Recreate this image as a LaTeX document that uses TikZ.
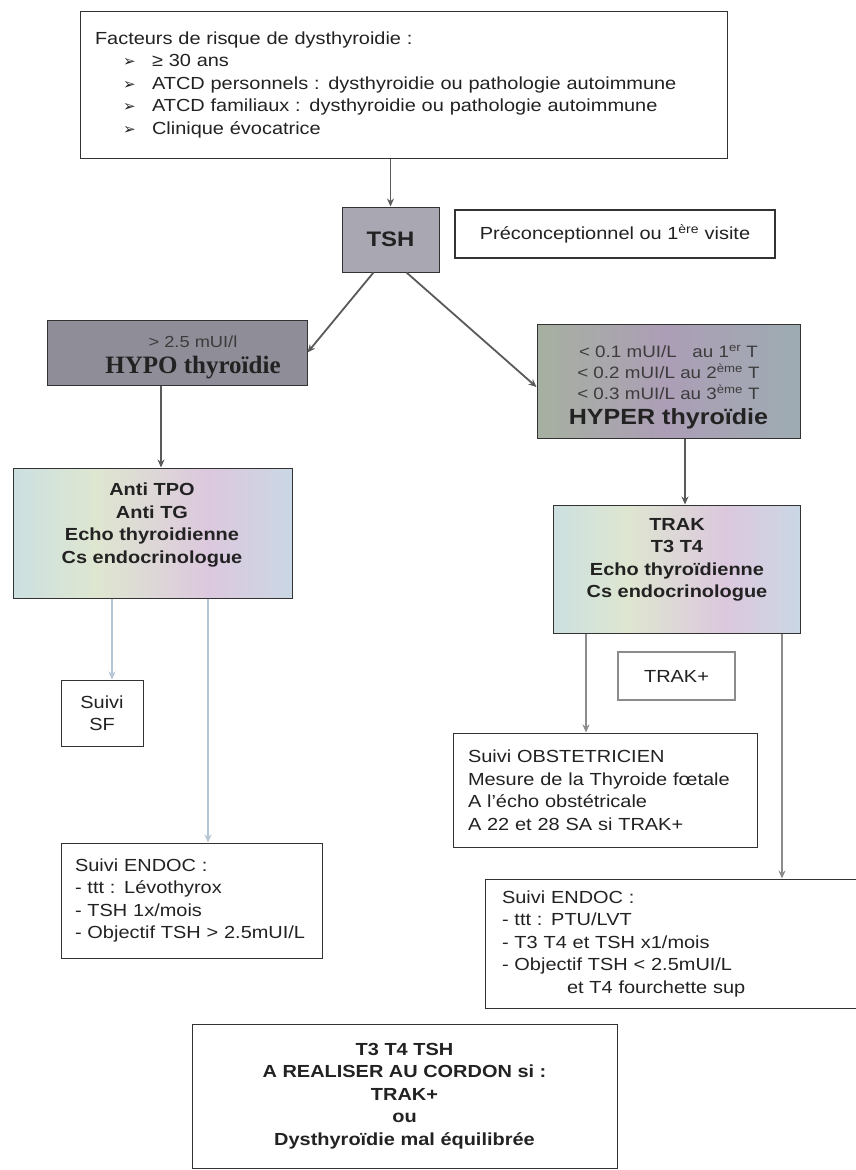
\documentclass[tikz,border=0pt]{standalone}
\usepackage{fontspec}
\setmainfont{Liberation Sans}[FakeStretch=1.14]
\newfontfamily\serifb{Liberation Serif}
\newfontfamily\dejavu{DejaVu Sans}
\usetikzlibrary{arrows.meta}
\definecolor{txt}{HTML}{222222}
\definecolor{txtl}{HTML}{3C3C3C}
\definecolor{bord}{HTML}{333333}
\definecolor{arr}{HTML}{5A5A5A}
\definecolor{arrlight}{HTML}{B4C6D6}
\definecolor{arrmid}{HTML}{8C8C8C}
\definecolor{tshfill}{HTML}{A9A7B1}
\definecolor{hypofill}{HTML}{8F8D97}
\definecolor{pa}{HTML}{D6C6DE}
\definecolor{pb}{HTML}{C6DEE6}
\definecolor{pc}{HTML}{DEE6D0}
\definecolor{pd}{HTML}{DCC8DE}
\definecolor{pe}{HTML}{C4DCE6}
\definecolor{pf}{HTML}{CAC6E2}
\definecolor{ha}{HTML}{A096B0}
\definecolor{hb}{HTML}{A6B0A0}
\definecolor{hc}{HTML}{AC9EB6}
\definecolor{hd}{HTML}{9EACB2}
\definecolor{he}{HTML}{B09EB8}
\pgfdeclarehorizontalshading{pastel}{100bp}{color(0bp)=(pa); color(20bp)=(pb); color(40bp)=(pc); color(60bp)=(pd); color(80bp)=(pe); color(100bp)=(pf)}
\pgfdeclarehorizontalshading{hypershade}{100bp}{color(0bp)=(ha); color(25bp)=(hb); color(50bp)=(hc); color(75bp)=(hd); color(100bp)=(he)}
\newcommand{\bul}{\hspace*{28pt}\makebox[29pt][l]{\dejavu\fontsize{15}{15}\selectfont ➢}}
\begin{document}
\begin{tikzpicture}[x=1pt,y=-1pt,
  box/.style={draw=bord, line width=1pt, text=txt, inner sep=0pt, align=center},
  leftbox/.style={draw=bord, line width=1pt, text=txt, inner ysep=0pt, align=left},
  boxtext/.style={text=txt, inner sep=0pt, align=center},
  arrowmain/.style={draw=arr, line width=1.8pt, -{Stealth[length=8pt,width=7pt]}},
  arrowlight/.style={draw=arrlight, line width=1.8pt, -{Stealth[length=8pt,width=7pt]}},
  arrowmid/.style={draw=arrmid, line width=1.8pt, -{Stealth[length=8pt,width=7pt]}},
  regfont/.style={font=\fontsize{17.5}{22.5}\selectfont},
  boldfont/.style={font=\fontsize{17.5}{22.5}\selectfont\bfseries}
]
\useasboundingbox (0,0) rectangle (856,1170);
\fill[white] (0,0) rectangle (856,1170);

% top box
\node[leftbox, regfont, minimum width=647pt, minimum height=147pt, text width=617pt, inner xsep=15pt] (risk) at (403.5,84.5)
{Facteurs de risque de dysthyroidie :\\
\bul ≥ 30 ans\\
\bul ATCD personnels : dysthyroidie ou pathologie autoimmune\\
\bul ATCD familiaux : dysthyroidie ou pathologie autoimmune\\
\bul Clinique évocatrice\\[3pt]};

% TSH
\node[box, fill=tshfill, draw=bord, minimum width=97pt, minimum height=65pt, font=\fontsize{21}{24}\selectfont\bfseries] (tsh) at (390.5,239.5) {TSH};
\node[box, draw=bord, line width=2.2pt, minimum width=320pt, minimum height=48pt, regfont] (precon) at (615,234) {Préconceptionnel ou 1\textsuperscript{ère} visite};

% HYPO
\node[box, fill=hypofill, minimum width=260pt, minimum height=65pt] (hypo) at (177,352.5) {};
\node[boxtext, font=\fontsize{16}{26}\selectfont] (hypotext) at (193,357)
{{\color{txtl}> 2.5 mUI/l}\\
 {\serifb\bfseries\fontsize{25}{26}\selectfont HYPO thyroïdie}};

% HYPER
\node[box, shading=hypershade, minimum width=263pt, minimum height=114pt] (hyper) at (668.5,381) {};
\node[boxtext, font=\fontsize{16.5}{21}\selectfont] (hypertext) at (668.5,387)
{\color{txtl}< 0.1 mUI/L~~~au 1\textsuperscript{er} T\\
 \color{txtl}< 0.2 mUI/L au 2\textsuperscript{ème} T\\
 \color{txtl}< 0.3 mUI/L au 3\textsuperscript{ème} T\\[4pt]
 {\fontsize{22}{24}\selectfont\bfseries\color{txt}HYPER thyroïdie}};

% second level
\node[box, shading=pastel, minimum width=279pt, minimum height=130pt] (antitpo) at (152.5,533) {};
\node[boxtext, boldfont] (antitpotext) at (152,525)
{Anti TPO\\Anti TG\\Echo thyroidienne\\Cs endocrinologue};
\node[box, shading=pastel, minimum width=247pt, minimum height=128pt] (trak) at (676.5,569) {};
\node[boxtext, boldfont] (traktext) at (677,560)
{TRAK\\T3 T4\\Echo thyroïdienne\\Cs endocrinologue};

% left branch
\node[box, minimum width=82pt, minimum height=66pt, regfont] (suivisf) at (102,713) {Suivi\\SF};
\node[leftbox, minimum width=261pt, minimum height=115pt, text width=233pt, inner xsep=14pt, regfont] (endocl) at (191.5,900.5)
{Suivi ENDOC :\\- ttt : Lévothyrox\\- TSH 1x/mois\\- Objectif TSH > 2.5mUI/L};

% right branch
\node[box, draw=arrmid, line width=2.6pt, minimum width=117pt, minimum height=48pt, regfont] (trakplus) at (676.5,676) {TRAK+};
\node[leftbox, minimum width=304pt, minimum height=114pt, text width=274pt, inner xsep=15pt, regfont] (obst) at (605,790)
{Suivi OBSTETRICIEN\\Mesure de la Thyroide fœtale\\A l’écho obstétricale\\A 22 et 28 SA si TRAK+};
\node[leftbox, minimum width=375pt, minimum height=129pt, text width=341pt, inner xsep=17pt, regfont] (endocr) at (672.5,943.5)
{Suivi ENDOC :\\- ttt : PTU/LVT\\- T3 T4 et TSH x1/mois\\- Objectif TSH < 2.5mUI/L\\\hspace*{65pt}et T4 fourchette sup};

% bottom
\node[box, minimum width=425pt, minimum height=144pt, boldfont] (cordon) at (404.5,1096)
{T3 T4 TSH\\A REALISER AU CORDON si :\\TRAK+\\ou\\Dysthyroïdie mal équilibrée};

% connectors
\draw[arrowmain] (tsh.north |- risk.south) -- (tsh.north);
\draw[arrowmain] ([xshift=-17pt]tsh.south) -- (hypo.east);
\draw[arrowmain] ([xshift=16pt]tsh.south) -- ([yshift=-6pt]hyper.west);
\draw[arrowmain] ([xshift=-16pt]hypo.south) -- ([xshift=-16pt]hypo.south |- antitpo.north);
\draw[arrowmain] ([xshift=8.5pt]trak.north |- hyper.south) -- ([xshift=8.5pt]trak.north);
\draw[arrowlight] ([xshift=10pt]suivisf.north |- antitpo.south) -- ([xshift=10pt]suivisf.north);
\draw[arrowlight] ([xshift=16.5pt]endocl.north |- antitpo.south) -- ([xshift=16.5pt]endocl.north);
\draw[arrowmid] ([xshift=-19pt]obst.north |- trak.south) -- ([xshift=-19pt]obst.north);
\draw[arrowmid] ([xshift=105.5pt]trak.south) -- ([xshift=105.5pt]trak.south |- endocr.north);
\end{tikzpicture}
\end{document}
